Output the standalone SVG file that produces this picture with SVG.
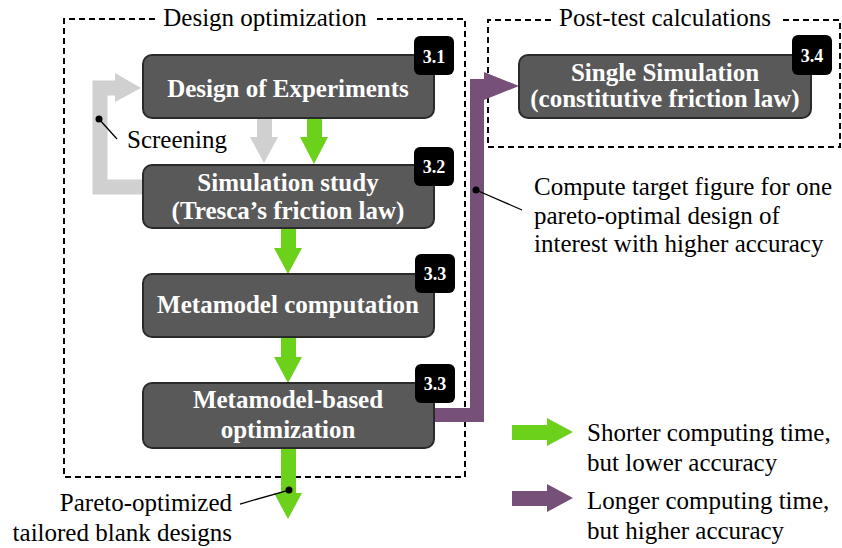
<svg xmlns="http://www.w3.org/2000/svg" width="842" height="548" viewBox="0 0 842 548" font-family="Liberation Serif, DejaVu Serif, serif">
<style>
.frame{fill:none;stroke:#000;stroke-width:2;stroke-dasharray:6,4}
.box{fill:#595959;stroke:#2a2a2a;stroke-width:2}
.badge{fill:#000}
.bt{font-family:"Liberation Serif","DejaVu Serif",serif;font-weight:bold;font-size:25px;fill:#fff;text-anchor:middle}
.bn{font-family:"Liberation Serif","DejaVu Serif",serif;font-weight:bold;font-size:18px;fill:#fff;text-anchor:middle}
.t{font-family:"Liberation Serif","DejaVu Serif",serif;font-size:25px;fill:#000}
.green{fill:#6bd11a}
.purple{fill:#77507a}
.grey{fill:#d0d0d0}
.lead{stroke:#000;stroke-width:1.3;fill:none}
</style>
<rect width="842" height="548" fill="#fff"/>

<g id="frame-design">
<path class="frame" d="M155,19 H64 V477 H465 V19 H375"/>
<text class="t" x="265" y="26" text-anchor="middle">Design optimization</text>
</g>
<g id="frame-post">
<path class="frame" d="M551,20 H488 V147 H840 V20 H779"/>
<text class="t" x="665" y="26" text-anchor="middle">Post-test calculations</text>
</g>

<g id="connectors">
<path d="M143,187 H100 V88 H116" fill="none" stroke="#d0d0d0" stroke-width="15"/>
<polygon class="grey" points="115,73 141,88 115,102"/>
<rect class="grey" x="257" y="118" width="15" height="20"/>
<polygon class="grey" points="250,137 278,137 264,163"/>
<rect class="green" x="307" y="118" width="15" height="20"/>
<polygon class="green" points="300,137 328,137 314,164"/>
<rect class="green" x="281" y="228" width="15" height="21"/>
<polygon class="green" points="274,248 302,248 288,274"/>
<rect class="green" x="281" y="337" width="15" height="21"/>
<polygon class="green" points="274,357 302,357 288,383"/>
<rect class="green" x="281" y="448" width="15" height="46"/>
<polygon class="green" points="274,493 302,493 288,519"/>
<path d="M434,415 H477 V86 H486" fill="none" stroke="#77507a" stroke-width="14"/>
<polygon class="purple" points="484,72 519,86 484,100"/>
</g>

<g id="node-doe">
<rect class="box" x="143" y="55" width="291" height="63" rx="9"/>
<text class="bt" x="288" y="97">Design of Experiments</text>
<rect class="badge" x="414" y="36" width="40" height="39" rx="6"/>
<text class="bn" x="434" y="63">3.1</text>
</g>
<g id="node-sim">
<rect class="box" x="143" y="165" width="291" height="63" rx="9"/>
<text class="bt" x="288" y="191">Simulation study</text>
<text class="bt" x="288" y="219">(Tresca’s friction law)</text>
<rect class="badge" x="414" y="147" width="40" height="39" rx="6"/>
<text class="bn" x="434" y="173">3.2</text>
</g>
<g id="node-meta">
<rect class="box" x="143" y="274" width="291" height="63" rx="9"/>
<text class="bt" x="288" y="313">Metamodel computation</text>
<rect class="badge" x="415" y="254" width="40" height="39" rx="6"/>
<text class="bn" x="435" y="280">3.3</text>
</g>
<g id="node-opt">
<rect class="box" x="143" y="383" width="291" height="65" rx="9"/>
<text class="bt" x="288" y="408">Metamodel-based</text>
<text class="bt" x="288" y="438">optimization</text>
<rect class="badge" x="415" y="364" width="40" height="39" rx="6"/>
<text class="bn" x="435" y="390">3.3</text>
</g>
<g id="node-single">
<rect class="box" x="519" y="55" width="292" height="63" rx="9"/>
<text class="bt" x="665" y="81">Single Simulation</text>
<text class="bt" x="665" y="107">(constitutive friction law)</text>
<rect class="badge" x="792" y="35" width="40" height="40" rx="6"/>
<text class="bn" x="812" y="62">3.4</text>
</g>

<g id="labels">
<circle cx="99" cy="119" r="3.5"/>
<line class="lead" x1="99" y1="119" x2="117" y2="139"/>
<text class="t" x="127" y="148">Screening</text>

<circle cx="289" cy="490" r="3.5"/>
<line class="lead" x1="289" y1="490" x2="240" y2="504"/>
<text class="t" x="232" y="511" text-anchor="end">Pareto-optimized</text>
<text class="t" x="232" y="541" text-anchor="end">tailored blank designs</text>

<circle cx="476" cy="190" r="3.5"/>
<line class="lead" x1="476" y1="190" x2="522" y2="210"/>
<text class="t" x="534" y="195">Compute target figure for one</text>
<text class="t" x="534" y="224">pareto-optimal design of</text>
<text class="t" x="534" y="252">interest with higher accuracy</text>
</g>

<g id="legend">
<rect class="green" x="512" y="425" width="36" height="15"/>
<polygon class="green" points="547,418 573,432 547,446"/>
<text class="t" x="587" y="441">Shorter computing time,</text>
<text class="t" x="587" y="471">but lower accuracy</text>
<rect class="purple" x="512" y="491" width="36" height="15"/>
<polygon class="purple" points="547,484 573,498 547,512"/>
<text class="t" x="587" y="509">Longer computing time,</text>
<text class="t" x="587" y="539">but higher accuracy</text>
</g>
</svg>
